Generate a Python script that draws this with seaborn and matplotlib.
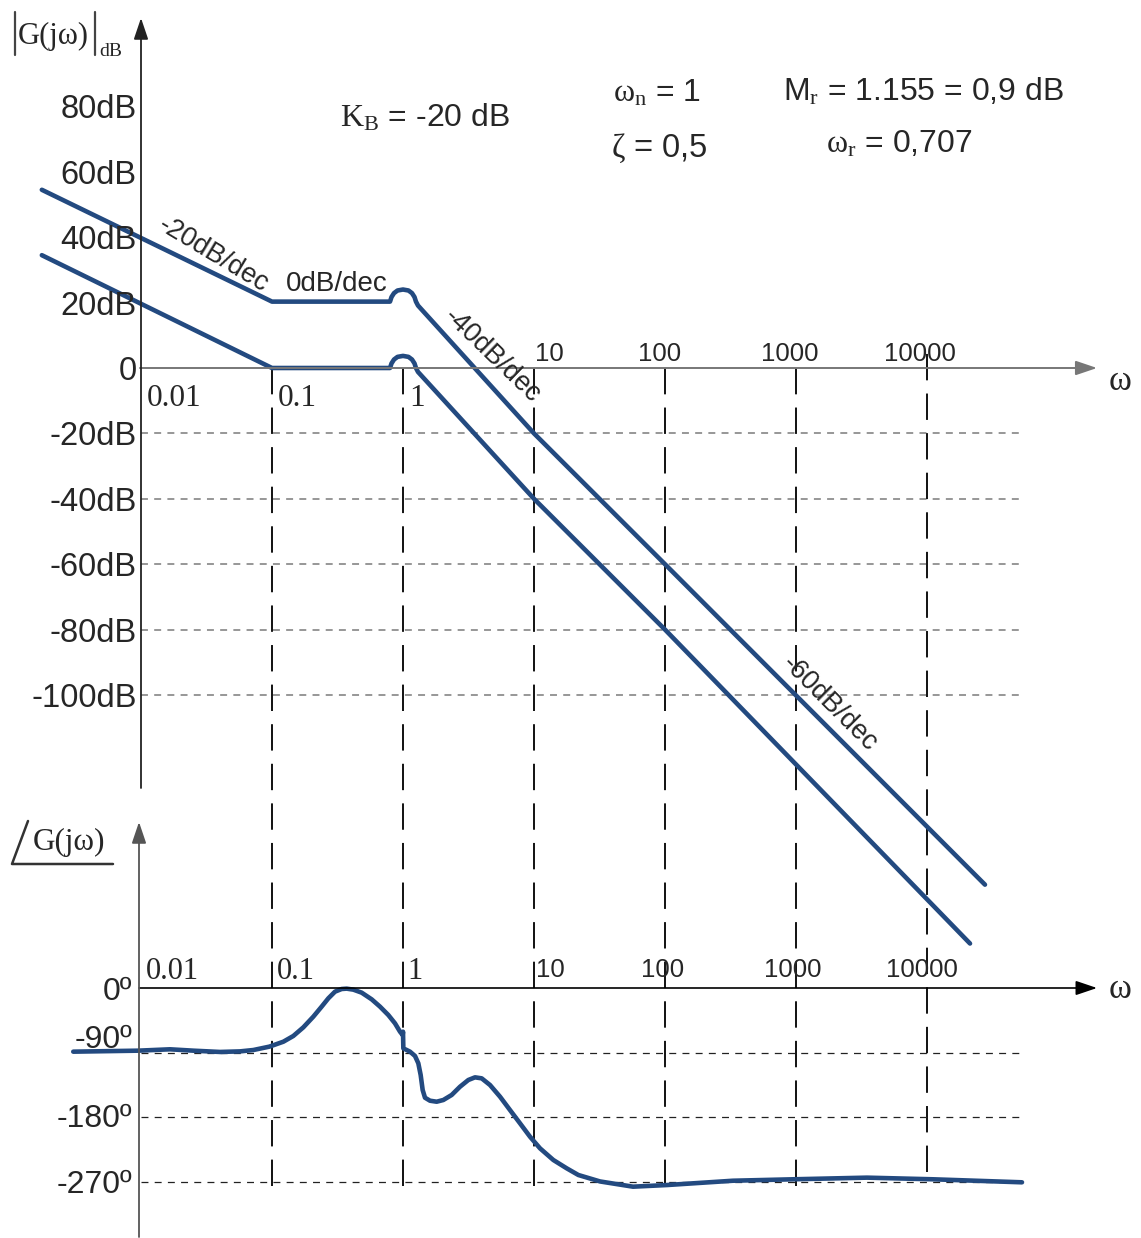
import numpy as np
import matplotlib.pyplot as plt
import seaborn as sns

sns.set_style("white")
plt.rcParams['font.family'] = ['Liberation Sans', 'DejaVu Sans']
plt.rcParams['mathtext.fontset'] = 'custom'
plt.rcParams['mathtext.rm'] = 'Liberation Serif'
plt.rcParams['mathtext.it'] = 'Liberation Serif:italic'
plt.rcParams['lines.scale_dashes'] = False

# --- Daten ---
decades = [0.1, 1, 10, 100, 1000, 10000]
mag_grid_db = [-20, -40, -60, -80, -100]
mag_tick_db = [80, 60, 40, 20, 0, -20, -40, -60, -80, -100]
mag_tick_labels = ['80dB', '60dB', '40dB', '20dB', '0', '-20dB', '-40dB', '-60dB', '-80dB', '-100dB']
phase_grid_deg = [-90, -180, -270]
phase_tick_pos = [0, -68, -178, -270]
phase_tick_labels = ['0º', '-90º', '-180º', '-270º']
serif_w_labels = ['0.01', '0.1', '1']
serif_w_pos = [0.01, 0.1, 1]
sans_w_labels = ['10', '100', '1000', '10000']
sans_w_pos = [10, 100, 1000, 10000]

# Betragsgang, untere Kurve
low_w = [0.00175, 0.1, 0.796, 0.817, 0.854, 0.908, 1.0, 1.101, 1.171, 1.224, 1.256, 1.302,
         10, 100, 21300]
low_db = [34.5, 0, 0, 1.4, 2.6, 3.4, 3.7, 3.4, 2.6, 1.4, 0, -1.2, -40, -80, -176]
# Betragsgang, obere Kurve
up_w = [0.00175, 0.1, 0.796, 0.817, 0.854, 0.908, 1.0, 1.101, 1.171, 1.224, 1.256, 1.302,
        10, 100, 27700]
up_db = [54.5, 20.3, 20.3, 21.7, 22.9, 23.7, 24.0, 23.7, 22.9, 21.7, 20.3, 19.1, -20, -60, -158]

# Phasengang
ph_w = [0.00304, 0.00954, 0.01665, 0.02507, 0.0401, 0.0570, 0.0720, 0.0954, 0.1221, 0.1455,
        0.1734, 0.2067, 0.2393, 0.2692, 0.3027, 0.3402, 0.3715, 0.4178, 0.4837, 0.5765,
        0.6674, 0.7727, 0.8688, 0.9486, 0.994, 1.0, 1.006, 1.067, 1.131, 1.235,
        1.309, 1.364, 1.413, 1.472, 1.607, 1.807, 2.032, 2.352, 2.723, 3.153,
        3.545, 3.986, 4.615, 5.503, 6.558, 7.817, 9.322, 11.11, 14.05, 17.77,
        21.8, 31.9, 57.0, 103.6, 330, 949, 3483, 11110, 53100]
ph_deg = [-88.8, -87.4, -85.5, -87.4, -89.2, -88.4, -86.5, -81.8, -74.9, -66.9,
          -54.9, -40.0, -26.0, -14.4, -5.1, -1.4, -0.9, -2.3, -6.5, -15.8,
          -26.0, -37.7, -49.3, -60.9, -65.6, -60.9, -84.2, -86.5, -88.8, -94.8,
          -105.0, -121.3, -142.3, -153.0, -157.2, -158.6, -156.2, -149.2, -137.7, -128.3,
          -124.6, -126.0, -135.3, -151.6, -170.2, -188.7, -207.4, -223.6, -239.9, -251.5,
          -260.8, -269.8, -277.1, -274.8, -268.8, -266.8, -264.5, -266.8, -271.0]

BLUE = '#234a80'
W, H = 1141, 1238
PX_DEC = 131.0          # Pixel pro Dekade
X0 = 141.0              # Pixel von w = 0.01


def px2w(px):
    return 10 ** ((px - X0) / PX_DEC - 2)


fig = plt.figure(figsize=(W / 100, H / 100), dpi=100)
mag = fig.add_axes([0, 0, 1, 1])
ph = fig.add_axes([0, 0, 1, 1])
deco = fig.add_axes([0, 0, 1, 1])
for ax in (mag, ph, deco):
    ax.set_facecolor('none')
    ax.axis('off')
mag.set_xscale('log')
ph.set_xscale('log')

line_kw = dict(color=BLUE, linewidth=3.3, sort=False, estimator=None,
               solid_capstyle='round', solid_joinstyle='round')

# **Betragsgang**
mag.hlines(mag_grid_db, 0.01, px2w(1022), colors='#7a7a7a', linewidth=1.1,
           linestyles=(0, (5, 4.5)))
tops = [1 - 368 / H] * 5 + [1 - 345 / H]
bots = [1 - 1186 / H] * 5 + [1 - 1172 / H]
for w, t, b in zip(decades, tops, bots):
    mag.vlines(w, b, t, transform=mag.get_xaxis_transform(), colors='#111111',
               linewidth=1.4, linestyles=(0, (19, 9.5)))

sns.lineplot(x=low_w, y=low_db, ax=mag, **line_kw)
sns.lineplot(x=up_w, y=up_db, ax=mag, **line_kw)

arrow = dict(arrowstyle='-|>,head_length=0.65,head_width=0.22', mutation_scale=20,
             shrinkA=0, shrinkB=0)
mag.annotate('', xy=(px2w(1097), 0), xytext=(px2w(140), 0),
             arrowprops=dict(arrow, color='#777777', lw=1.4))
mag.annotate('', xy=(0.01, (368 - 18) / 3.27), xytext=(0.01, (368 - 788) / 3.27),
             arrowprops=dict(arrow, color='#222222', lw=1.3))

for v, lab in zip(mag_tick_db, mag_tick_labels):
    mag.text(px2w(137), v, lab, ha='right', va='center_baseline', fontsize=23.5)
for w, lab in zip(serif_w_pos, serif_w_labels):
    mag.text(w * 1.11, -8.2, lab, ha='left', va='center_baseline', fontsize=22.5,
             family='Liberation Serif')
for w, lab, ha, f in zip(sans_w_pos, sans_w_labels, ['left', 'center', 'center', 'center'],
                         [1.01, 0.91, 0.89, 0.89]):
    mag.text(w * f, 5.0, lab, ha=ha, va='center_baseline', fontsize=18.5)

# **Phasengang**
ph.hlines(phase_grid_deg, 0.01, px2w(1022), colors='#222222', linewidth=0.9,
          linestyles=(0, (5, 4.5)))
sns.lineplot(x=ph_w, y=ph_deg, ax=ph, **line_kw)
ph.annotate('', xy=(px2w(1097), 0), xytext=(px2w(139), 0),
            arrowprops=dict(arrow, color='black', lw=1.2))
ph.annotate('', xy=(px2w(139), (988 - 822) / 0.717), xytext=(px2w(139), (988 - 1237) / 0.717),
            arrowprops=dict(arrow, color='#555555', lw=1.3))

for v, lab in zip(phase_tick_pos, phase_tick_labels):
    ph.text(px2w(132), v, lab, ha='right', va='center_baseline', fontsize=23)
for w, lab in zip(serif_w_pos, serif_w_labels):
    ph.text(w * 1.08, 28, lab, ha='left', va='center_baseline', fontsize=22,
            family='Liberation Serif')
for w, lab, ha, f in zip(sans_w_pos, sans_w_labels, ['left', 'center', 'center', 'center'],
                         [1.03, 0.96, 0.95, 0.92]):
    ph.text(w * f, 28, lab, ha=ha, va='center_baseline', fontsize=18.5)

# Grenzen (Pixel-Abbildung wie im Original)
xl = (px2w(0), px2w(W))
mag.set_xlim(xl)
ph.set_xlim(xl)
mag.set_ylim((368 - H) / 3.27, 368 / 3.27)
ph.set_ylim((988 - H) / 0.717, 988 / 0.717)

# **Beschriftungen**
deco.set_xlim(0, W)
deco.set_ylim(H, 0)
deco.text(1109, 382, 'ω', fontsize=25, family='Liberation Serif', va='center')
deco.text(1109, 990, 'ω', fontsize=25, family='Liberation Serif', va='center')

deco.text(213, 255, '-20dB/dec', rotation=-31, rotation_mode='anchor', ha='center',
          va='center', fontsize=19.5)
deco.text(337, 284, '0dB/dec', ha='center', va='center', fontsize=20)
deco.text(492, 356, '-40dB/dec', rotation=-44, rotation_mode='anchor', ha='center',
          va='center', fontsize=19.5)
deco.text(829, 704, '-60dB/dec', rotation=-45, rotation_mode='anchor', ha='center',
          va='center', fontsize=19.5)

deco.text(340, 118, r'$\mathrm{K}_\mathrm{B}$ = -20 dB', va='center', fontsize=23)
deco.text(613, 93, r'$\mathrm{\omega}_\mathrm{n}$ = 1', va='center', fontsize=23)
deco.text(611, 148, r'$\mathrm{\zeta}$ = 0,5', va='center', fontsize=23.5)
deco.text(783, 92, r'M$_\mathrm{r}$ = 1.155 = 0,9 dB', va='center', fontsize=23)
deco.text(826, 144, r'$\mathrm{\omega}_\mathrm{r}$ = 0,707', va='center', fontsize=23)

# |G(jw)|dB
deco.plot([15, 15], [12, 55], color='#444444', lw=1.6)
deco.plot([95, 95], [12, 55], color='#444444', lw=1.6)
deco.text(18, 36, 'G(jω)', fontsize=22, family='Liberation Serif', va='center')
deco.text(99, 51, 'dB', fontsize=14, family='Liberation Serif', va='center')
# Winkel G(jw)
deco.plot([28, 12, 113], [821, 864, 864], color='#333333', lw=1.8)
deco.text(33, 842, 'G(jω)', fontsize=22.5, family='Liberation Serif', va='center')

fig.savefig('out.png', dpi=100)
